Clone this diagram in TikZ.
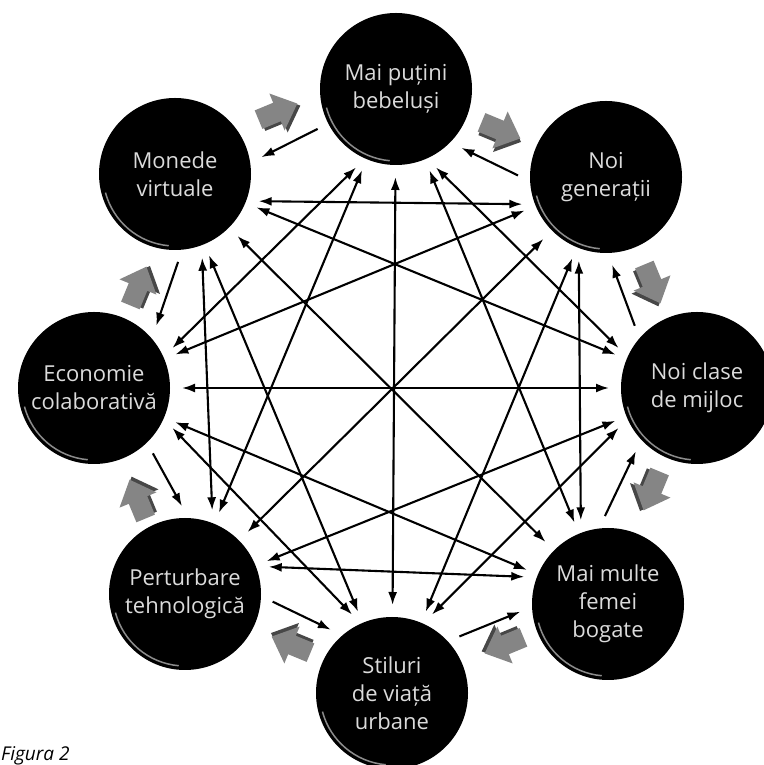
\documentclass[tikz,border=0pt]{standalone}
\usepackage{fontspec}
\setmainfont{Open Sans}
\usetikzlibrary{arrows.meta}
\tikzset{
  bubble/.style={circle,fill=black,minimum size=152pt,inner sep=0pt,outer sep=12pt,
    text=white!86!black,align=center,font=\fontsize{22}{28}\selectfont,
    path picture={\draw[white!55!black,line width=1.5pt] (path picture bounding box.center) ++(195:72pt) arc (195:265:72pt);}},
  link/.style={{Latex[length=13pt,width=9pt]}-{Latex[length=13pt,width=9pt]},line width=2.1pt},
  flow/.style={-{Latex[length=13pt,width=9pt]},line width=2.1pt},
  cwshape/.pic={
    \fill[black!72] ([shift={(2,-3)}]-20,-10) -- ++(20,0) -- ++(0,-10) -- ++(22,20) -- ++(-22,20) -- ++(0,-10) -- ++(-20,0) -- cycle;
    \fill[black!48] (-20,-10) -- (0,-10) -- (0,-20) -- (22,0) -- (0,20) -- (0,10) -- (-20,10) -- cycle;
  }
}
\begin{document}
\begin{tikzpicture}[x=1pt,y=1pt]
\useasboundingbox (0,0) rectangle (763,765);
\node[bubble] (bebe) at (396,676) {Mai puțini\\bebeluși};
\node[bubble] (gen) at (606,588) {Noi\\generații};
\node[bubble] (clase) at (697,377) {Noi clase\\de mijloc};
\node[bubble] (femei) at (608,161) {Mai multe\\femei\\bogate};
\node[bubble] (urbane) at (392,72) {Stiluri\\de viață\\urbane};
\node[bubble] (tehno) at (185,171) {Perturbare\\tehnologică};
\node[bubble] (econ) at (94,377) {Economie\\colaborativă};
\node[bubble] (monede) at (175,591) {Monede\\virtuale};
% across the middle
\draw[link] (bebe) -- (urbane);
\draw[link] (gen) -- (tehno);
\draw[link] (clase) -- (econ);
\draw[link] (femei) -- (monede);
% one circle skipped
\draw[link] (bebe.-63) -- (clase.153);
\draw[link] (gen.-108) -- (femei.108);
\draw[link] (clase.-153) -- (urbane.63);
\draw[link] (femei.162) -- (tehno.18);
\draw[link] (urbane.117) -- (econ.-27);
\draw[link] (tehno.72) -- (monede.-72);
\draw[link] (econ.27) -- (bebe.-117);
\draw[link] (monede.-18) -- (gen.198);
% two circles skipped
\draw[link] (bebe) -- (femei);
\draw[link] (gen) -- (urbane);
\draw[link] (clase) -- (tehno);
\draw[link] (femei) -- (econ);
\draw[link] (urbane) -- (monede);
\draw[link] (tehno) -- (bebe);
\draw[link] (econ) -- (gen);
\draw[link] (monede) -- (clase);
% neighbours, inner ring
\draw[flow] (gen.179) -- (bebe.-42);
\draw[flow] (bebe.207) -- (monede.11);
\draw[flow] (monede.-88) -- (econ.45);
\draw[flow] (econ.-48) -- (tehno.92);
\draw[flow] (tehno.-5) -- (urbane.134);
\draw[flow] (urbane.40) -- (femei.185);
\draw[flow] (femei.92) -- (clase.226);
\draw[flow] (clase.135) -- (gen.-86);
% outer ring
\pic[rotate=22.5] (cw1) at (277,653) {cwshape};
\pic[rotate=-22.5] (cw2) at (500,635) {cwshape};
\pic[rotate=-67.5] (cw3) at (652,482) {cwshape};
\pic[rotate=-112.5] (cw4) at (652,275) {cwshape};
\pic[rotate=-157.5] (cw5) at (505,120) {cwshape};
\pic[rotate=157.5] (cw6) at (292,120) {cwshape};
\pic[rotate=112.5] (cw7) at (138,265) {cwshape};
\pic[rotate=67.5] (cw8) at (138,478) {cwshape};
\node[anchor=base west,inner sep=0pt,font=\fontsize{19}{19}\selectfont\itshape] (fig) at (1,5) {Figura 2};
\end{tikzpicture}
\end{document}
